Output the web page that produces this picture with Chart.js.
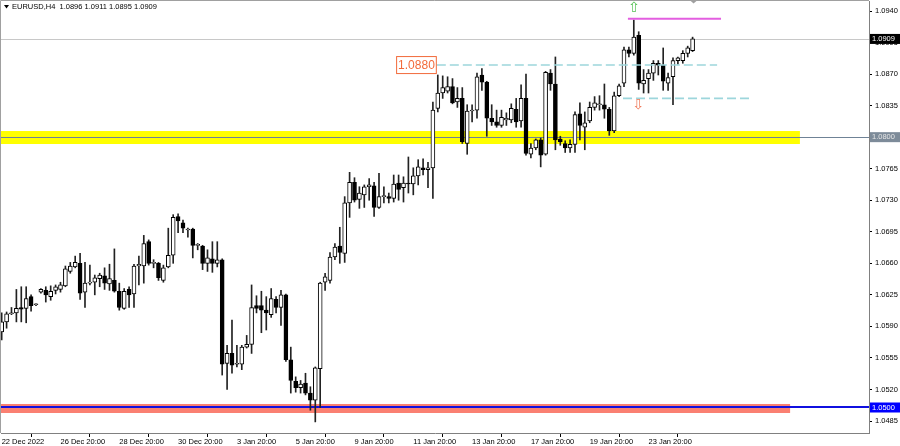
<!DOCTYPE html>
<html>
<head>
<meta charset="utf-8">
<script src="https://cdn.jsdelivr.net/npm/chart.js@4.4.0/dist/chart.umd.min.js"></script>
<style>
  html, body { margin: 0; padding: 0; background: #fff; }
  #wrap { width: 900px; height: 446px; }
</style>
</head>
<body>
<div id="wrap"><canvas id="chart" width="900" height="446"></canvas></div>
<script>
// EURUSD H4 candles (one entry per bar)
const opens = [
  1.0584, 1.0595, 1.0604, 1.0605, 1.0611, 1.0610, 1.0623, 1.0614, 1.0628, 1.0630,
  1.0623, 1.0630, 1.0631, 1.0635, 1.0651, 1.0656, 1.0660, 1.0628, 1.0638, 1.0639,
  1.0643, 1.0646, 1.0637, 1.0641, 1.0629, 1.0610, 1.0631, 1.0626, 1.0657, 1.0657,
  1.0684, 1.0660, 1.0660, 1.0641, 1.0656, 1.0669, 1.0712, 1.0705, 1.0697, 1.0698,
  1.0680, 1.0679, 1.0660, 1.0665, 1.0660, 1.0664, 1.0549, 1.0560, 1.0548, 1.0548,
  1.0567, 1.0570, 1.0613, 1.0613, 1.0608, 1.0603, 1.0620, 1.0611, 1.0625, 1.0553,
  1.0529, 1.0522, 1.0527, 1.0516, 1.0508, 1.0543, 1.0639, 1.0641, 1.0667, 1.0679,
  1.0671, 1.0727, 1.0750, 1.0731, 1.0736, 1.0745, 1.0746, 1.0722, 1.0734, 1.0734,
  1.0732, 1.0749, 1.0744, 1.0749, 1.0748, 1.0757, 1.0766, 1.0764, 1.0766, 1.0832,
  1.0849, 1.0851, 1.0856, 1.0839, 1.0843, 1.0793, 1.0829, 1.0830, 1.0869, 1.0861,
  1.0821, 1.0817, 1.0813, 1.0819, 1.0819, 1.0831, 1.0818, 1.0843, 1.0781, 1.0788,
  1.0797, 1.0781, 1.0871, 1.0859, 1.0798, 1.0793, 1.0788, 1.0792, 1.0826, 1.0811,
  1.0818, 1.0833, 1.0836, 1.0836, 1.0831, 1.0807, 1.0846, 1.0860, 1.0897, 1.0893,
  1.0913, 1.0859, 1.0865, 1.0871, 1.0882, 1.0880, 1.0860, 1.0867, 1.0885, 1.0885,
  1.0893, 1.0896
];
const highs = [
  1.0605, 1.0606, 1.0611, 1.0631, 1.0634, 1.0634, 1.0625, 1.0615, 1.0632, 1.0634,
  1.0635, 1.0636, 1.0639, 1.0657, 1.0661, 1.0668, 1.0671, 1.0661, 1.0658, 1.0647,
  1.0649, 1.0655, 1.0659, 1.0676, 1.0638, 1.0632, 1.0634, 1.0659, 1.0668, 1.0691,
  1.0686, 1.0664, 1.0661, 1.0658, 1.0699, 1.0714, 1.0715, 1.0708, 1.0699, 1.0699,
  1.0682, 1.0680, 1.0675, 1.0684, 1.0684, 1.0665, 1.0569, 1.0597, 1.0569, 1.0569,
  1.0580, 1.0636, 1.0624, 1.0629, 1.0623, 1.0632, 1.0623, 1.0630, 1.0626, 1.0567,
  1.0534, 1.0530, 1.0538, 1.0523, 1.0545, 1.0639, 1.0649, 1.0672, 1.0682, 1.0700,
  1.0734, 1.0761, 1.0755, 1.0745, 1.0747, 1.0754, 1.0750, 1.0760, 1.0745, 1.0738,
  1.0758, 1.0758, 1.0756, 1.0778, 1.0766, 1.0775, 1.0776, 1.0772, 1.0839, 1.0869,
  1.0868, 1.0867, 1.0865, 1.0855, 1.0855, 1.0836, 1.0836, 1.0871, 1.0876, 1.0862,
  1.0836, 1.0830, 1.0830, 1.0827, 1.0837, 1.0843, 1.0858, 1.0870, 1.0793, 1.0798,
  1.0799, 1.0873, 1.0875, 1.0889, 1.0801, 1.0796, 1.0797, 1.0828, 1.0838, 1.0828,
  1.0839, 1.0845, 1.0846, 1.0859, 1.0833, 1.0850, 1.0859, 1.0900, 1.0900, 1.0930,
  1.0917, 1.0875, 1.0875, 1.0885, 1.0885, 1.0899, 1.0871, 1.0888, 1.0889, 1.0896,
  1.0901, 1.0911
];
const lows = [
  1.0575, 1.0588, 1.0603, 1.0595, 1.0595, 1.0594, 1.0607, 1.0613, 1.0627, 1.0617,
  1.0619, 1.0626, 1.0628, 1.0634, 1.0649, 1.0655, 1.0620, 1.0611, 1.0636, 1.0625,
  1.0634, 1.0631, 1.0630, 1.0628, 1.0608, 1.0609, 1.0611, 1.0611, 1.0636, 1.0638,
  1.0658, 1.0655, 1.0641, 1.0639, 1.0655, 1.0660, 1.0694, 1.0694, 1.0689, 1.0666,
  1.0675, 1.0653, 1.0651, 1.0650, 1.0656, 1.0536, 1.0520, 1.0538, 1.0545, 1.0542,
  1.0566, 1.0560, 1.0605, 1.0583, 1.0586, 1.0600, 1.0605, 1.0591, 1.0551, 1.0516,
  1.0517, 1.0516, 1.0514, 1.0497, 1.0484, 1.0500, 1.0630, 1.0638, 1.0664, 1.0660,
  1.0661, 1.0711, 1.0728, 1.0721, 1.0722, 1.0730, 1.0712, 1.0721, 1.0727, 1.0727,
  1.0728, 1.0730, 1.0728, 1.0738, 1.0736, 1.0747, 1.0758, 1.0744, 1.0732, 1.0828,
  1.0843, 1.0849, 1.0837, 1.0833, 1.0793, 1.0781, 1.0817, 1.0821, 1.0852, 1.0801,
  1.0813, 1.0811, 1.0811, 1.0813, 1.0816, 1.0811, 1.0811, 1.0780, 1.0777, 1.0786,
  1.0767, 1.0780, 1.0852, 1.0786, 1.0791, 1.0783, 1.0783, 1.0783, 1.0797, 1.0786,
  1.0816, 1.0830, 1.0830, 1.0821, 1.0802, 1.0805, 1.0845, 1.0856, 1.0889, 1.0891,
  1.0853, 1.0849, 1.0849, 1.0863, 1.0869, 1.0852, 1.0852, 1.0836, 1.0881, 1.0882,
  1.0889, 1.0895
];
const closes = [
  1.0595, 1.0604, 1.0605, 1.0610, 1.0609, 1.0621, 1.0613, 1.0614, 1.0631, 1.0625,
  1.0629, 1.0634, 1.0636, 1.0654, 1.0657, 1.0661, 1.0627, 1.0638, 1.0639, 1.0644,
  1.0647, 1.0638, 1.0643, 1.0629, 1.0611, 1.0629, 1.0625, 1.0657, 1.0659, 1.0682,
  1.0660, 1.0660, 1.0644, 1.0655, 1.0669, 1.0711, 1.0707, 1.0699, 1.0697, 1.0680,
  1.0681, 1.0660, 1.0666, 1.0660, 1.0664, 1.0548, 1.0560, 1.0547, 1.0548, 1.0567,
  1.0570, 1.0611, 1.0610, 1.0608, 1.0605, 1.0621, 1.0611, 1.0625, 1.0553, 1.0530,
  1.0522, 1.0526, 1.0516, 1.0508, 1.0544, 1.0638, 1.0645, 1.0667, 1.0678, 1.0672,
  1.0727, 1.0750, 1.0730, 1.0738, 1.0745, 1.0747, 1.0722, 1.0734, 1.0734, 1.0732,
  1.0748, 1.0742, 1.0749, 1.0748, 1.0757, 1.0767, 1.0764, 1.0766, 1.0830, 1.0849,
  1.0855, 1.0856, 1.0838, 1.0843, 1.0795, 1.0829, 1.0830, 1.0867, 1.0861, 1.0821,
  1.0817, 1.0813, 1.0822, 1.0821, 1.0832, 1.0817, 1.0843, 1.0782, 1.0788, 1.0797,
  1.0780, 1.0872, 1.0859, 1.0797, 1.0795, 1.0788, 1.0792, 1.0825, 1.0813, 1.0816,
  1.0833, 1.0838, 1.0836, 1.0831, 1.0807, 1.0846, 1.0857, 1.0897, 1.0893, 1.0911,
  1.0860, 1.0863, 1.0871, 1.0882, 1.0880, 1.0862, 1.0866, 1.0885, 1.0888, 1.0893,
  1.0899, 1.0909
];

// axis ticks
const xTickBars = [0, 12, 24, 36, 48, 60, 72, 84, 96, 108, 120, 132];
const xTickLabels = ['22 Dec 2022', '26 Dec 20:00', '28 Dec 20:00', '30 Dec 20:00', '3 Jan 20:00',
  '5 Jan 20:00', '9 Jan 20:00', '11 Jan 20:00', '13 Jan 20:00', '17 Jan 20:00', '19 Jan 20:00', '23 Jan 20:00'];
const yTicks = [1.0485, 1.0520, 1.0555, 1.0590, 1.0625, 1.0660, 1.0695, 1.0730,
  1.0765, 1.0800, 1.0835, 1.0870, 1.0905, 1.0940];

// drawn objects: zones [low, high, endBar], levels, trend marks
const yellowZone = [1.07924, 1.08068, 162.9];
const redZone = [1.04939, 1.05039, 160.9];
const bidLevel = 1.0909;
const grayLevel = 1.0800;
const blueLevel = 1.0500;
const pinkLine = [1.09315, 127.8, 146.8];     // price, fromBar, toBar
const dashTop = [1.0880, 88.8, 146.0];
const dashLow = [1.0843, 126.8, 152.9];
const upArrow = [129.0, 1.09433];              // bar, price
const downArrow = [129.9, 1.08357];
const shiftMark = 141.2;

const last = closes.length - 1;
const FONT = "'Liberation Sans', Arial, sans-serif";

const overlay = {
  id: 'overlay',
  beforeDatasetsDraw(chart) {
    const { ctx, chartArea: a, scales: { x, y } } = chart;
    ctx.save();
    ctx.beginPath();
    ctx.rect(a.left, a.top, a.right - a.left, a.bottom - a.top);
    ctx.clip();
    const band = (z, color) => {
      const y1 = y.getPixelForValue(z[1]), y2 = y.getPixelForValue(z[0]);
      ctx.fillStyle = color;
      ctx.fillRect(a.left, y1, x.getPixelForValue(z[2]) - a.left, y2 - y1);
    };
    band(yellowZone, '#ffff00');
    band(redZone, '#fa8072');
    const hline = (p, color, w) => {
      const py = Math.round(y.getPixelForValue(p)) + (w % 2 ? 0.5 : 0);
      ctx.strokeStyle = color;
      ctx.lineWidth = w;
      ctx.beginPath();
      ctx.moveTo(a.left, py);
      ctx.lineTo(a.right, py);
      ctx.stroke();
    };
    hline(bidLevel, '#c8c8c8', 1);
    hline(grayLevel, '#6f8296', 1);
    hline(blueLevel, '#1010e0', 2);
    ctx.restore();
  },
  afterDatasetsDraw(chart) {
    const { ctx, chartArea: a, scales: { x, y } } = chart;
    ctx.save();
    const seg = (l, color, w, dash) => {
      const py = y.getPixelForValue(l[0]);
      ctx.strokeStyle = color;
      ctx.lineWidth = w;
      ctx.setLineDash(dash);
      ctx.beginPath();
      ctx.moveTo(x.getPixelForValue(l[1]), py);
      ctx.lineTo(x.getPixelForValue(l[2]), py);
      ctx.stroke();
    };
    seg(pinkLine, '#e35ee0', 2, []);
    seg(dashTop, '#9dd6dc', 1.6, [9, 4]);
    seg(dashLow, '#9dd6dc', 1.6, [9, 4]);
    ctx.setLineDash([]);

    // price tag of the dashed level
    const tx = x.getPixelForValue(dashTop[1]);
    const ty = y.getPixelForValue(dashTop[0]);
    ctx.font = '12px ' + FONT;
    const tw = ctx.measureText(dashTop[0].toFixed(4)).width;
    ctx.fillStyle = '#fff';
    ctx.fillRect(tx - tw - 4, ty - 9, tw + 4, 18);
    ctx.strokeStyle = '#f26a3a';
    ctx.lineWidth = 1;
    ctx.strokeRect(tx - tw - 3.5, ty - 8.5, tw + 3, 17);
    ctx.fillStyle = '#f26a3a';
    ctx.textAlign = 'left';
    ctx.textBaseline = 'middle';
    ctx.fillText(dashTop[0].toFixed(4), tx - tw - 2, ty + 1);

    // fractal arrows
    ctx.font = '14px DejaVu Sans';
    ctx.textAlign = 'center';
    ctx.fillStyle = '#55c055';
    ctx.fillText('\u21E7', x.getPixelForValue(upArrow[0]), y.getPixelForValue(upArrow[1]));
    ctx.fillStyle = '#f07a5a';
    ctx.fillText('\u21E9', x.getPixelForValue(downArrow[0]), y.getPixelForValue(downArrow[1]));

    // chart shift marker
    const sx = x.getPixelForValue(shiftMark);
    ctx.fillStyle = '#a0a0a0';
    ctx.beginPath();
    ctx.moveTo(sx - 4, 0);
    ctx.lineTo(sx + 4, 0);
    ctx.lineTo(sx, 3.5);
    ctx.closePath();
    ctx.fill();
    ctx.restore();
  },
  afterDraw(chart) {
    const { ctx, chartArea: a, scales: { y } } = chart;
    ctx.save();
    // frame
    ctx.strokeStyle = '#a0a0a0';
    ctx.lineWidth = 1;
    ctx.beginPath();
    ctx.moveTo(0.5, a.bottom);
    ctx.lineTo(0.5, 0.5);
    ctx.lineTo(a.right, 0.5);
    ctx.stroke();

    // price boxes on the right scale
    const tag = (p, bg, fg) => {
      const py = y.getPixelForValue(p);
      ctx.fillStyle = bg;
      ctx.fillRect(a.right + 1, py - 5, 900 - a.right - 1, 10);
      ctx.fillStyle = fg;
      ctx.font = '7.5px ' + FONT;
      ctx.textAlign = 'left';
      ctx.textBaseline = 'middle';
      ctx.fillText(p.toFixed(4), a.right + 3, py);
    };
    tag(bidLevel, '#000', '#fff');
    tag(grayLevel, '#7d8b99', '#e6e6e6');
    tag(blueLevel, '#0000ff', '#fff');

    // header
    ctx.fillStyle = '#000';
    ctx.beginPath();
    ctx.moveTo(4, 5);
    ctx.lineTo(9, 5);
    ctx.lineTo(6.5, 8.5);
    ctx.closePath();
    ctx.fill();
    ctx.font = '7.5px ' + FONT;
    ctx.textAlign = 'left';
    ctx.textBaseline = 'middle';
    const hdr = 'EURUSD,H4  ' + [opens[last], highs[last], lows[last], closes[last]].map(v => v.toFixed(4)).join(' ');
    ctx.fillText(hdr, 12, 7);
    ctx.restore();
  }
};

const noPad = axis => {
  axis.paddingTop = 0;
  axis.paddingBottom = 0;
  axis.paddingLeft = 0;
  axis.paddingRight = 0;
};

new Chart(document.getElementById('chart'), {
  type: 'bar',
  data: {
    datasets: [
      {
        label: 'wicks',
        data: highs.map((h, i) => ({ x: i, y: [lows[i], h] })),
        backgroundColor: '#222',
        barThickness: 1,
        grouped: false,
        order: 2
      },
      {
        label: 'bodies',
        data: opens.map((o, i) => ({ x: i, y: [o, closes[i]] })),
        backgroundColor: opens.map((o, i) => closes[i] >= o ? '#ffffff' : '#000000'),
        borderColor: '#000',
        borderWidth: 1,
        borderSkipped: false,
        barThickness: 4,
        minBarLength: 1,
        grouped: false,
        order: 1
      }
    ]
  },
  options: {
    responsive: false,
    animation: false,
    devicePixelRatio: 1,
    layout: { padding: { left: 1, top: 1, right: 0, bottom: 0 } },
    plugins: { legend: { display: false }, tooltip: { enabled: false } },
    scales: {
      x: {
        type: 'linear',
        min: -0.14,
        max: 177.0,
        offset: false,
        grid: { drawOnChartArea: false, color: '#000', tickLength: 4 },
        border: { color: '#808080' },
        afterBuildTicks: axis => { axis.ticks = xTickBars.map(v => ({ value: v })); },
        afterFit: axis => { axis.height = 13; noPad(axis); },
        ticks: {
          autoSkip: false,
          maxRotation: 0,
          align: 'start',
          padding: 0,
          color: '#000',
          font: { family: FONT, size: 7.5 },
          callback: v => xTickLabels[xTickBars.indexOf(v)]
        }
      },
      y: {
        type: 'linear',
        position: 'right',
        min: 1.04717,
        max: 1.09511,
        grid: { drawOnChartArea: false, color: '#000', tickLength: 3 },
        border: { color: '#808080' },
        afterBuildTicks: axis => { axis.ticks = yTicks.map(v => ({ value: v })); },
        afterFit: axis => { axis.width = 31; noPad(axis); },
        ticks: {
          padding: 3,
          color: '#000',
          font: { family: FONT, size: 7.5 },
          callback: v => v.toFixed(4)
        }
      }
    }
  },
  plugins: [overlay]
});
</script>
</body>
</html>
